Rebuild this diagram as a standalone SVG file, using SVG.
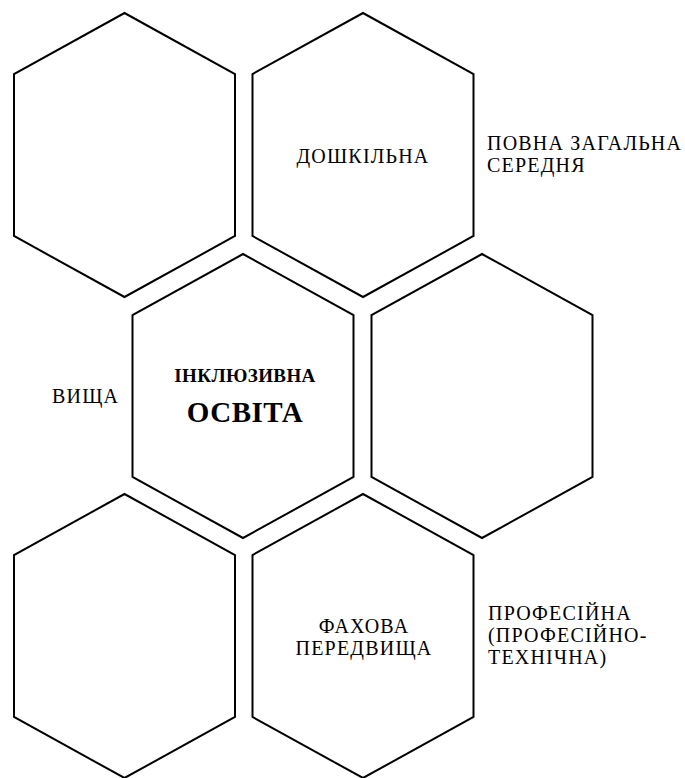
<svg xmlns="http://www.w3.org/2000/svg" width="685" height="778" viewBox="0 0 685 778">
<style>
.hex{fill:#fff;stroke:#000;stroke-width:2;stroke-linejoin:miter}
.c{text-anchor:middle}
.n{font-size:20px;letter-spacing:1.2px}
</style>
<defs>
<polygon id="hx" points="0,-142 110.5,-81 110.5,81 0,142 -110.5,81 -110.5,-81"/>
</defs>
<rect width="685" height="778" fill="#fff"/>
<g font-family="Liberation Serif, DejaVu Serif, Times New Roman, serif" font-size="19" fill="#000">
<g id="hex1"><use href="#hx" class="hex" x="124.5" y="155"/></g>
<g id="hex2"><use href="#hx" class="hex" x="363" y="155"/><text class="c n" x="363" y="163">ДОШКІЛЬНА</text></g>
<g id="hex3"><use href="#hx" class="hex" x="243" y="396"/><text class="c" font-weight="bold" x="245" y="382" letter-spacing="0.4">ІНКЛЮЗИВНА</text><text class="c" font-weight="bold" x="245" y="422" font-size="29" letter-spacing="0.5">ОСВІТА</text></g>
<g id="hex4"><use href="#hx" class="hex" x="482" y="396"/></g>
<g id="hex5"><use href="#hx" class="hex" x="124.5" y="636"/></g>
<g id="hex6"><use href="#hx" class="hex" x="363" y="636"/><text class="c n" x="364" y="633">ФАХОВА</text><text class="c n" x="364" y="655">ПЕРЕДВИЩА</text></g>
<g id="label-povna"><text class="n" x="487" y="150">ПОВНА ЗАГАЛЬНА</text><text class="n" x="487" y="172">СЕРЕДНЯ</text></g>
<g id="label-vyshcha"><text class="n" x="52" y="403">ВИЩА</text></g>
<g id="label-prof"><text class="n" x="488" y="620">ПРОФЕСІЙНА</text><text class="n" x="488" y="642">(ПРОФЕСІЙНО-</text><text class="n" x="488" y="664">ТЕХНІЧНА)</text></g>
</g>
<g id="connectors"></g>
</svg>
